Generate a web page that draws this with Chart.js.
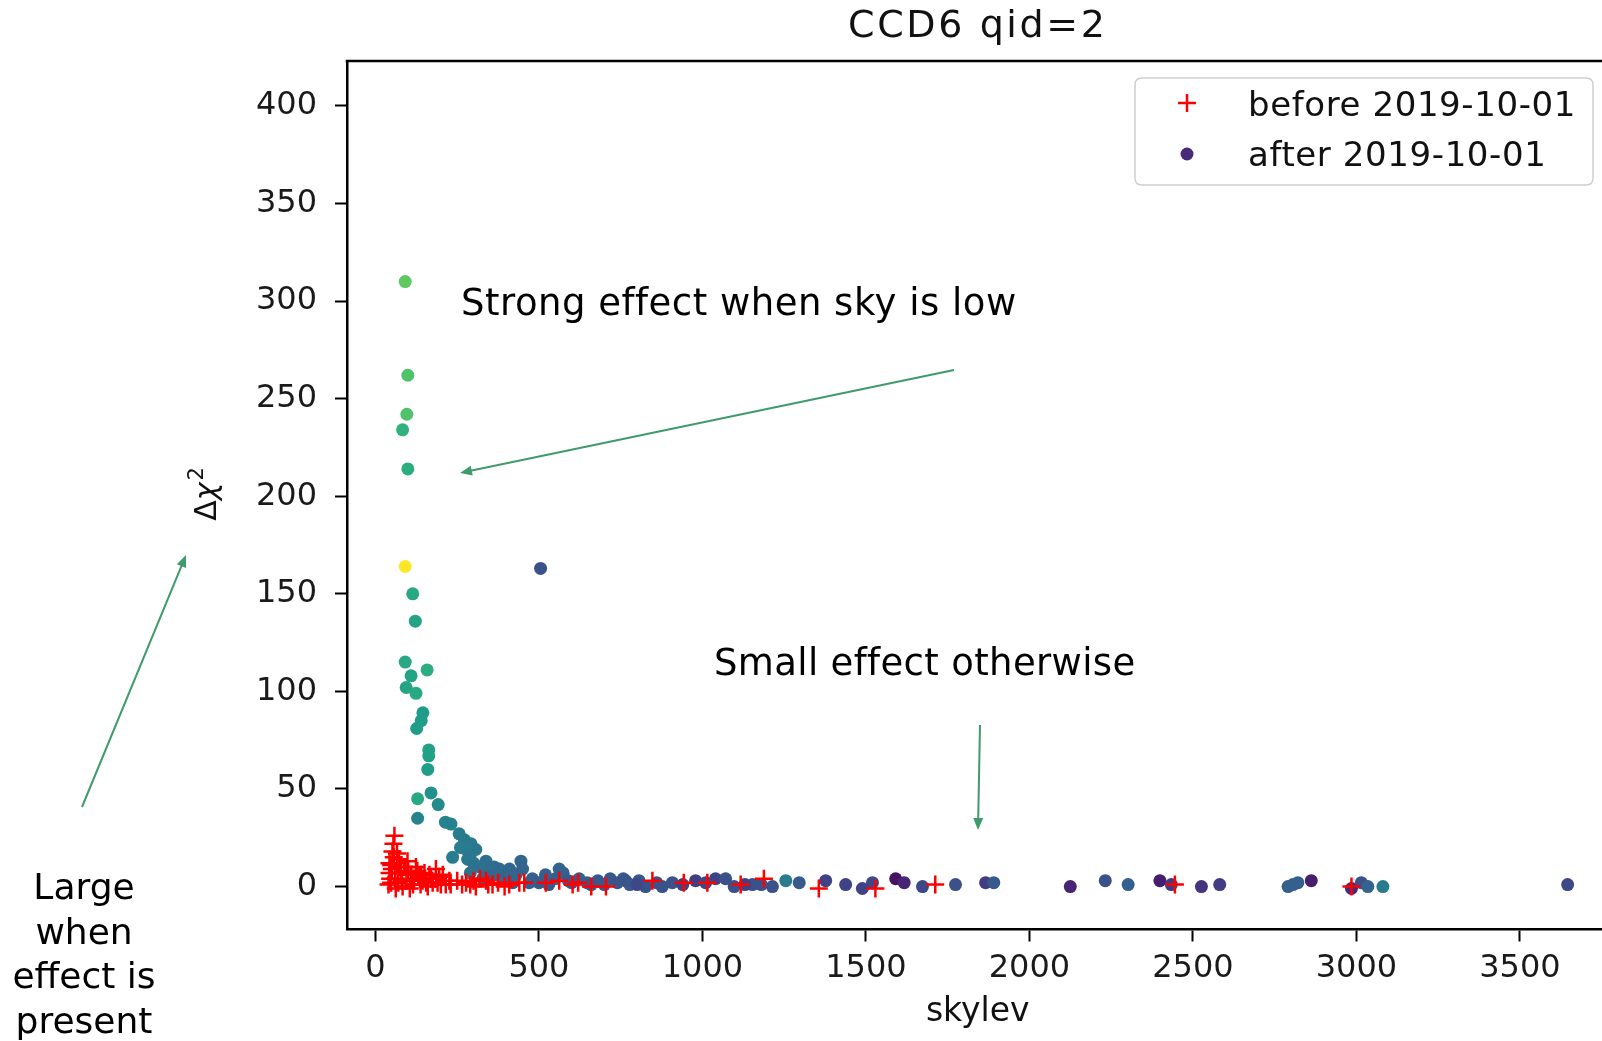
<!DOCTYPE html>
<html><head><meta charset="utf-8">
<script src="https://cdn.jsdelivr.net/npm/chart.js@4.4.1/dist/chart.umd.min.js"></script>
<style>
html,body{margin:0;padding:0;background:#fff;overflow:hidden;width:1602px;height:1041px}
#wrap{position:absolute;left:0;top:0;width:1620px;height:1041px}
canvas{display:block}
</style></head><body>
<div id="wrap"><canvas id="c" width="1620" height="1041" style="width:1620px;height:1041px"></canvas></div>
<script>
// ---------- data ----------
const chartTitle = "CCD6 qid=2";
const xAxisLabel = "skylev";
const seriesNames = ["before 2019-10-01", "after 2019-10-01"];
const xTicks = [0, 500, 1000, 1500, 2000, 2500, 3000, 3500];
const yTicks = [0, 50, 100, 150, 200, 250, 300, 350, 400];

const beforeX = [58,55,52,56,43,66,91,43,78,109,124,48,83,118,144,160,185,185,206,226,277,307,338,358,409,521,562,603,705,847,943,1015,1117,1188,1356,1529,1712,2445,2985,
  60,70,95,100,133,150,170,200,66,75,50,62,105,138,165,250,290,320,375,440,620,660,
  45,80,115,140,175,195,215,40,88,128,155,190,72,98,112,48,68,230,265,300,345,395,455];
const beforeY = [26,22,18,15,12,12,10,7,7,6,10,2,0,3,3,0,9,4,6,3,2,0,3,1,1,2,3,1,0,3,2,2,1,4,-1,-1,1,1,0,
  4,2,3,8,5,7,4,1,17,10,9,-1,-1,1,6,3,1,4,2,2,2,0,
  4,3,1,6,2,5,1,1,10,8,2,2,14,13,4,11,7,1,1,3,1,0,2];

const afterX = [91,99,96,83,99,91,114,122,91,158,109,94,124,145,140,126,163,163,160,129,170,192,129,214,231,256,272,292,307,277,236,282,338,363,379,445,450,290,328,480,505,562,574,550,623,647,718,758,778,
  400,420,500,520,600,680,700,765,806,826,877,908,979,1040,1071,1097,1153,1214,1255,1296,1377,1438,1489,1520,1591,1617,1673,1774,1866,1891,2125,2232,2302,2399,2434,2526,2582,2791,2806,2821,2862,2985,3015,3035,3081,3646,
  300,320,350,370,340,410,430,390,260,290,470,530,590,660,740,800,860,940,1010,1130,1180];
const afterY = [310,262,242,234,214,164,150,136,115,111,108,102,99,89,85,81,70,67,60,45,48,42,35,33,32,27,24,22,19,19,15,14,13,10,9,13,9,7,4,4,163,9,7,4,4,2,4,4,1,
  5,2,2,6,2,3,1,3,3,0,0,2,3,4,4,0,1,0,3,2,3,1,-1,2,4,2,0,1,2,2,0,3,1,3,1,0,1,0,1,2,3,-1,2,0,0,1,
  12,10,8,6,5,9,6,4,20,16,2,1,3,1,2,1,2,1,2,1,1];
// colour variable of the "after" points (0..1 on the viridis scale)
const afterC = [0.75,0.72,0.72,0.64,0.62,1.0,0.6,0.58,0.6,0.62,0.58,0.58,0.6,0.55,0.55,0.55,0.57,0.57,0.55,0.6,0.5,0.48,0.45,0.45,0.44,0.42,0.42,0.41,0.4,0.42,0.42,0.4,0.36,0.35,0.34,0.33,0.32,0.38,0.33,0.3,0.25,0.32,0.3,0.3,0.3,0.3,0.28,0.28,0.28,
  0.3,0.3,0.28,0.3,0.28,0.28,0.28,0.27,0.27,0.25,0.25,0.25,0.18,0.2,0.25,0.25,0.25,0.25,0.42,0.28,0.2,0.2,0.2,0.22,0.05,0.1,0.22,0.25,0.18,0.28,0.1,0.25,0.3,0.08,0.18,0.15,0.18,0.3,0.3,0.3,0.08,0.12,0.25,0.32,0.42,0.22,
  0.38,0.37,0.35,0.34,0.33,0.33,0.32,0.32,0.42,0.4,0.3,0.28,0.28,0.27,0.26,0.22,0.25,0.2,0.22,0.2,0.25];

const noteStrong = "Strong effect when sky is low";
const noteSmall = "Small effect otherwise";
const noteLarge = ["Large", "when", "effect is", "present"];

// ---------- helpers ----------
const viridisStops = ["#440154","#482878","#3e4989","#31688e","#26828e","#1f9e89","#35b779","#6ece58","#b5de2b","#fde725"];
function hexToRgb(h){return [parseInt(h.substr(1,2),16),parseInt(h.substr(3,2),16),parseInt(h.substr(5,2),16)];}
function viridis(t){
  t = Math.max(0, Math.min(1, t));
  const n = viridisStops.length - 1;
  const i = Math.min(n - 1, Math.floor(t * n));
  const f = t * n - i;
  const a = hexToRgb(viridisStops[i]), b = hexToRgb(viridisStops[i+1]);
  const c = a.map((v,k)=>Math.round(v + (b[k]-v)*f));
  return `rgb(${c[0]},${c[1]},${c[2]})`;
}
const FONT = "'DejaVu Sans', 'Liberation Sans', sans-serif";
const ARROW = "#3f9b6b";

function arrow(ctx, x1, y1, x2, y2){
  const ang = Math.atan2(y2-y1, x2-x1);
  const L = 12, W = 5;
  ctx.save();
  ctx.strokeStyle = ARROW; ctx.fillStyle = ARROW; ctx.lineWidth = 2;
  ctx.beginPath(); ctx.moveTo(x1,y1);
  ctx.lineTo(x2 - Math.cos(ang)*L*0.8, y2 - Math.sin(ang)*L*0.8); ctx.stroke();
  ctx.beginPath();
  ctx.moveTo(x2, y2);
  ctx.lineTo(x2 - Math.cos(ang)*L + Math.sin(ang)*W, y2 - Math.sin(ang)*L - Math.cos(ang)*W);
  ctx.lineTo(x2 - Math.cos(ang)*L - Math.sin(ang)*W, y2 - Math.sin(ang)*L + Math.cos(ang)*W);
  ctx.closePath(); ctx.fill();
  ctx.restore();
}
function setSpacing(ctx, v){ try { ctx.letterSpacing = v; } catch(e) {} }

const decor = {
  id: 'decor',
  afterDraw(chart){
    const ctx = chart.ctx, a = chart.chartArea;
    ctx.save();
    // top / right frame lines
    ctx.strokeStyle = '#000'; ctx.lineWidth = 2.5;
    ctx.beginPath(); ctx.moveTo(a.left - 1.25, a.top); ctx.lineTo(a.right + 2, a.top); ctx.stroke();
    ctx.beginPath(); ctx.moveTo(a.right, a.top); ctx.lineTo(a.right, a.bottom); ctx.stroke();

    const cx = (a.left + a.right) / 2;
    // title
    ctx.fillStyle = '#111';
    ctx.textAlign = 'center'; ctx.textBaseline = 'alphabetic';
    ctx.font = `38px ${FONT}`;
    setSpacing(ctx, '2.6px');
    ctx.fillText(chartTitle, cx, 37);
    setSpacing(ctx, '0px');
    // x label
    ctx.font = `33px ${FONT}`;
    ctx.fillText(xAxisLabel, cx, 1021);
    // y label Δχ²
    ctx.save();
    ctx.translate(216, 494); ctx.rotate(-Math.PI/2);
    ctx.textAlign = 'left';
    ctx.font = `30px ${FONT}`;
    const w1 = ctx.measureText('Δ').width;
    ctx.font = `italic 30px ${FONT}`;
    const w2 = ctx.measureText('χ').width;
    ctx.font = `21px ${FONT}`;
    const w3 = ctx.measureText('2').width;
    let x0 = -(w1 + w2 + w3 + 2) / 2;
    ctx.font = `30px ${FONT}`; ctx.fillText('Δ', x0, 0); x0 += w1;
    ctx.font = `italic 30px ${FONT}`; ctx.fillText('χ', x0, 0); x0 += w2 + 2;
    ctx.font = `21px ${FONT}`; ctx.fillText('2', x0, -13);
    ctx.restore();

    // legend
    const lx = 1135, ly = 78, lw = 458, lh = 107, r = 7;
    ctx.save();
    ctx.fillStyle = 'rgba(255,255,255,0.85)';
    ctx.strokeStyle = '#cfcfcf'; ctx.lineWidth = 1.5;
    ctx.beginPath();
    ctx.moveTo(lx + r, ly); ctx.lineTo(lx + lw - r, ly); ctx.quadraticCurveTo(lx + lw, ly, lx + lw, ly + r);
    ctx.lineTo(lx + lw, ly + lh - r); ctx.quadraticCurveTo(lx + lw, ly + lh, lx + lw - r, ly + lh);
    ctx.lineTo(lx + r, ly + lh); ctx.quadraticCurveTo(lx, ly + lh, lx, ly + lh - r);
    ctx.lineTo(lx, ly + r); ctx.quadraticCurveTo(lx, ly, lx + r, ly);
    ctx.closePath(); ctx.fill(); ctx.stroke();
    ctx.restore();
    // legend markers
    ctx.save();
    ctx.strokeStyle = '#ff0000'; ctx.lineWidth = 2.5;
    ctx.beginPath(); ctx.moveTo(1187 - 9, 103); ctx.lineTo(1187 + 9, 103);
    ctx.moveTo(1187, 103 - 9); ctx.lineTo(1187, 103 + 9); ctx.stroke();
    ctx.fillStyle = viridis(0.12);
    ctx.beginPath(); ctx.arc(1187, 154, 6.5, 0, Math.PI*2); ctx.fill();
    ctx.restore();
    ctx.fillStyle = '#111'; ctx.textAlign = 'left';
    ctx.font = `34px ${FONT}`;
    setSpacing(ctx, '0.6px');
    ctx.fillText(seriesNames[0], 1248, 116);
    ctx.fillText(seriesNames[1], 1248, 166);

    // annotations
    ctx.fillStyle = '#000';
    ctx.font = `37px ${FONT}`;
    ctx.textAlign = 'left';
    setSpacing(ctx, '0.5px');
    ctx.fillText(noteStrong, 461, 315);
    setSpacing(ctx, '0.35px');
    ctx.fillText(noteSmall, 714, 675);
    setSpacing(ctx, '0px');
    ctx.textAlign = 'center';
    ctx.font = `36px ${FONT}`;
    noteLarge.forEach((t, i) => ctx.fillText(t, 84, 899 + i * 44.5));

    arrow(ctx, 954, 370, 460, 473);
    arrow(ctx, 980, 725, 978, 830);
    arrow(ctx, 82, 807, 186, 555);
    ctx.restore();
  }
};

const beforeData = beforeX.map((x, i) => ({x, y: beforeY[i]}));
const afterData = afterX.map((x, i) => ({x, y: afterY[i]}));
const afterColors = afterC.map(viridis);

const tickFont = {family: FONT, size: 32};
const plain = v => String(v);

new Chart(document.getElementById('c'), {
  type: 'scatter',
  data: {
    datasets: [
      {
        label: seriesNames[1], data: afterData, order: 2,
        pointStyle: 'circle', pointRadius: 6.5, pointHoverRadius: 6.5,
        backgroundColor: afterColors, borderColor: afterColors, borderWidth: 0
      },
      {
        label: seriesNames[0], data: beforeData, order: 1,
        pointStyle: 'cross', pointRadius: 9, pointHoverRadius: 9,
        borderColor: '#ff0000', backgroundColor: '#ff0000', borderWidth: 2.5
      }
    ]
  },
  options: {
    responsive: false, animation: false, devicePixelRatio: 1,
    layout: {padding: {top: 61, right: 9, left: 0, bottom: 0}},
    plugins: {legend: {display: false}, title: {display: false}, tooltip: {enabled: false}},
    scales: {
      x: {
        type: 'linear', min: -87, max: 3771,
        afterFit: s => { s.height = 111.5; },
        afterBuildTicks: s => { s.ticks = xTicks.map(v => ({value: v})); },
        ticks: {font: tickFont, color: '#1a1a1a', padding: 8, maxRotation: 0, autoSkip: false, callback: plain},
        grid: {drawOnChartArea: false, drawTicks: true, tickLength: 12, tickWidth: 2, tickColor: '#000'},
        border: {display: true, color: '#000', width: 2.5}
      },
      y: {
        type: 'linear', min: -22, max: 423,
        afterFit: s => { s.width = 347; },
        afterBuildTicks: s => { s.ticks = yTicks.map(v => ({value: v})); },
        ticks: {font: tickFont, color: '#1a1a1a', padding: 18, autoSkip: false, callback: plain},
        grid: {drawOnChartArea: false, drawTicks: true, tickLength: 12, tickWidth: 2, tickColor: '#000'},
        border: {display: true, color: '#000', width: 2.5}
      }
    }
  },
  plugins: [decor]
});
</script>
</body></html>
